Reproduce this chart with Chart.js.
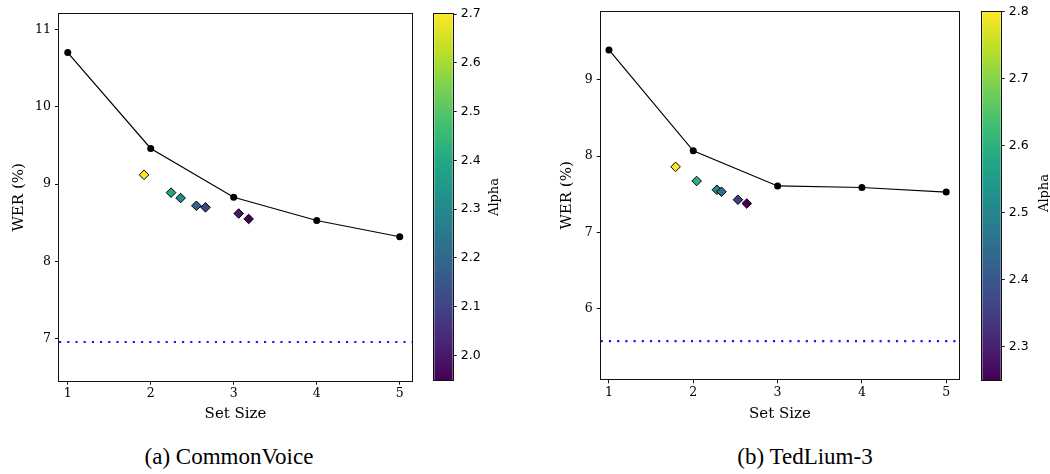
<!DOCTYPE html>
<html>
<head>
<meta charset="utf-8">
<script src="https://cdn.jsdelivr.net/npm/chart.js@4.4.1/dist/chart.umd.min.js"></script>
<style>
  html, body { margin: 0; padding: 0; background: #fff; }
  #wrap { position: relative; width: 1050px; height: 474px; overflow: hidden; }
  canvas { position: absolute; top: 0; }
  .caption { position: absolute; width: 300px; text-align: center; font-family: 'Liberation Serif', serif; font-size: 23px; line-height: 26px; color: #000; }
  .cblabel { position: absolute; width: 100px; height: 16px; line-height: 16px; text-align: center; font-family: 'DejaVu Serif', serif; font-size: 13px; color: #000; transform: rotate(-90deg); }
</style>
</head>
<body>
<div id="wrap">
  <canvas id="cvChart" width="425" height="424" style="left:0px"></canvas>
  <canvas id="cvBar" width="100" height="424" style="left:425px"></canvas>
  <canvas id="tedChart" width="425" height="424" style="left:540px"></canvas>
  <canvas id="tedBar" width="85" height="424" style="left:965px"></canvas>
  <div class="cblabel" style="left:444px; top:189px">Alpha</div>
  <div class="cblabel" style="left:994px; top:185px">Alpha</div>
  <div class="caption" style="left:79px; top:444px">(a) CommonVoice</div>
  <div class="caption" style="left:655px; top:444px">(b) TedLium-3</div>
</div>
<script>
// ---- data ----
var SET_SIZES = [1, 2, 3, 4, 5];
var X_TICKS = [1, 2, 3, 4, 5];

// CommonVoice
var CV_WER = [10.70, 9.46, 8.83, 8.53, 8.32];
var CV_DIAMOND_X = [1.92, 2.245, 2.36, 2.55, 2.66, 3.06, 3.18];
var CV_DIAMOND_Y = [9.12, 8.89, 8.82, 8.72, 8.70, 8.62, 8.55];
var CV_ALPHA = [2.7, 2.4, 2.3, 2.2, 2.1, 2.0, 1.95];
var CV_BASELINE = 6.96;
var CV_Y_TICKS = [7, 8, 9, 10, 11];
var CV_ALPHA_TICKS = [2.0, 2.1, 2.2, 2.3, 2.4, 2.5, 2.6, 2.7];

// TedLium-3
var TED_WER = [9.39, 8.07, 7.61, 7.59, 7.53];
var TED_DIAMOND_X = [1.79, 2.04, 2.28, 2.335, 2.53, 2.635];
var TED_DIAMOND_Y = [7.86, 7.675, 7.56, 7.535, 7.43, 7.38];
var TED_ALPHA = [2.8, 2.6, 2.5, 2.45, 2.35, 2.25];
var TED_BASELINE = 5.58;
var TED_Y_TICKS = [6, 7, 8, 9];
var TED_ALPHA_TICKS = [2.3, 2.4, 2.5, 2.6, 2.7, 2.8];

// viridis stops (0 .. 1)
var VIRIDIS = ['#440154', '#482475', '#414487', '#355f8d', '#2a788e', '#21918c',
               '#22a884', '#44bf70', '#7ad151', '#bddf26', '#fde725'];

function hexToRgb(h) {
    return [parseInt(h.substr(1, 2), 16), parseInt(h.substr(3, 2), 16), parseInt(h.substr(5, 2), 16)];
}

function viridis(t) {
    t = Math.max(0, Math.min(1, t));
    var pos = t * (VIRIDIS.length - 1);
    var i = Math.min(Math.floor(pos), VIRIDIS.length - 2);
    var f = pos - i;
    var a = hexToRgb(VIRIDIS[i]), b = hexToRgb(VIRIDIS[i + 1]);
    var c = a.map(function(v, k) { return Math.round(v + (b[k] - v) * f); });
    return 'rgb(' + c[0] + ',' + c[1] + ',' + c[2] + ')';
}

function zip(xs, ys) {
    return xs.map(function(x, i) { return { x: x, y: ys[i] }; });
}

var SERIF = 'DejaVu Serif';

// axes box (all four sides)
var framePlugin = {
    id: 'frame',
    afterDraw: function(chart) {
        var a = chart.chartArea, ctx = chart.ctx;
        var l = Math.round(a.left), t = Math.round(a.top), r = Math.round(a.right), b = Math.round(a.bottom);
        ctx.save();
        ctx.strokeStyle = '#111';
        ctx.lineWidth = 1;
        ctx.strokeRect(l - 0.5, t - 0.5, r - l + 1, b - t + 1);
        ctx.restore();
    }
};

var gradientPlugin = {
    id: 'cbGradient',
    beforeDatasetsDraw: function(chart) {
        var a = chart.chartArea, ctx = chart.ctx;
        var g = ctx.createLinearGradient(0, a.bottom, 0, a.top);
        VIRIDIS.forEach(function(c, i) { g.addColorStop(i / (VIRIDIS.length - 1), c); });
        ctx.save();
        ctx.fillStyle = g;
        ctx.fillRect(a.left, a.top, a.right - a.left, a.bottom - a.top);
        ctx.restore();
    }
};

function makePlot(id, cfg) {
    var amin = Math.min.apply(null, cfg.alpha), amax = Math.max.apply(null, cfg.alpha);
    var diamondColors = cfg.alpha.map(function(v) { return viridis((v - amin) / (amax - amin)); });
    var tickFont = { family: SERIF, size: 12.5 };
    var titleFont = { family: SERIF, size: 15, lineHeight: 1.2 };

    return new Chart(document.getElementById(id), {
        type: 'scatter',
        data: {
            datasets: [
                {
                    data: [{ x: cfg.xRange[0], y: cfg.baseline }, { x: cfg.xRange[1], y: cfg.baseline }],
                    showLine: true, borderColor: '#1a1aff', borderWidth: 2.2, borderDash: [2.2, 6],
                    pointRadius: 0
                },
                {
                    data: zip(SET_SIZES, cfg.wer),
                    showLine: true, borderColor: '#000', borderWidth: 1.2,
                    pointRadius: 3.5, pointBackgroundColor: '#000', pointBorderColor: '#000', pointBorderWidth: 0
                },
                {
                    data: zip(cfg.dx, cfg.dy),
                    pointStyle: 'rectRot', pointRadius: 4.8,
                    pointBackgroundColor: diamondColors, pointBorderColor: '#000', pointBorderWidth: 1
                }
            ]
        },
        options: {
            responsive: false, animation: false, devicePixelRatio: 1,
            layout: { padding: cfg.padding },
            plugins: { legend: { display: false }, tooltip: { enabled: false } },
            scales: {
                x: {
                    type: 'linear', min: cfg.xRange[0], max: cfg.xRange[1],
                    afterBuildTicks: function(s) { s.ticks = X_TICKS.map(function(v) { return { value: v }; }); },
                    afterFit: function(s) { s.height = cfg.xHeight; },
                    grid: { display: true, drawOnChartArea: false, tickLength: 4, color: '#111', tickWidth: 1 },
                    border: { display: false },
                    ticks: { font: tickFont, color: '#000', padding: 2, maxRotation: 0,
                             callback: function(v) { return String(v); } },
                    title: { display: true, text: 'Set Size', font: titleFont, color: '#000', padding: { top: 0, bottom: 1 } }
                },
                y: {
                    type: 'linear', min: cfg.yRange[0], max: cfg.yRange[1],
                    afterBuildTicks: function(s) { s.ticks = cfg.yTicks.map(function(v) { return { value: v }; }); },
                    afterFit: function(s) { s.width = cfg.yWidth; },
                    grid: { display: true, drawOnChartArea: false, tickLength: 4, color: '#111', tickWidth: 1 },
                    border: { display: false },
                    ticks: { font: tickFont, color: '#000', padding: 4,
                             callback: function(v) { return String(v); } },
                    title: { display: true, text: 'WER (%)', font: titleFont, color: '#000', padding: { top: cfg.yTitlePad, bottom: 0 } }
                }
            }
        },
        plugins: [framePlugin]
    });
}

function makeColorbar(id, cfg) {
    return new Chart(document.getElementById(id), {
        type: 'scatter',
        data: { datasets: [] },
        options: {
            responsive: false, animation: false, devicePixelRatio: 1,
            layout: { padding: cfg.padding },
            plugins: { legend: { display: false }, tooltip: { enabled: false } },
            scales: {
                x: { display: false, min: 0, max: 1 },
                y: {
                    type: 'linear', position: 'right', min: cfg.range[0], max: cfg.range[1],
                    afterBuildTicks: function(s) { s.ticks = cfg.ticks.map(function(v) { return { value: v }; }); },
                    afterFit: function(s) { s.width = cfg.yWidth; },
                    grid: { display: true, drawOnChartArea: false, tickLength: 4, color: '#111', tickWidth: 1 },
                    border: { display: false },
                    ticks: { font: { family: 'DejaVu Sans', size: 12.5 }, color: '#000', padding: 4,
                             callback: function(v) { return v.toFixed(1); } }
                }
            }
        },
        plugins: [gradientPlugin, framePlugin]
    });
}

makePlot('cvChart', {
    wer: CV_WER, dx: CV_DIAMOND_X, dy: CV_DIAMOND_Y, alpha: CV_ALPHA, baseline: CV_BASELINE,
    xRange: [0.895, 5.148], yRange: [6.46, 11.198], yTicks: CV_Y_TICKS,
    padding: { left: 0, top: 14, right: 13, bottom: 0 }, yWidth: 59, xHeight: 43.3, yTitlePad: 10
});
makeColorbar('cvBar', {
    range: [Math.min.apply(null, CV_ALPHA), Math.max.apply(null, CV_ALPHA)], ticks: CV_ALPHA_TICKS,
    padding: { left: 9.3, top: 14, right: 0, bottom: 44 }, yWidth: 72.3
});

makePlot('tedChart', {
    wer: TED_WER, dx: TED_DIAMOND_X, dy: TED_DIAMOND_Y, alpha: TED_ALPHA, baseline: TED_BASELINE,
    xRange: [0.902, 5.154], yRange: [5.08, 9.893], yTicks: TED_Y_TICKS,
    padding: { left: 0, top: 7.3, right: 5.3, bottom: 0 }, yWidth: 60.7, xHeight: 44.7, yTitlePad: 18.5
});
makeColorbar('tedBar', {
    range: [Math.min.apply(null, TED_ALPHA), Math.max.apply(null, TED_ALPHA)], ticks: TED_ALPHA_TICKS,
    padding: { left: 17.3, top: 7.3, right: 0, bottom: 44 }, yWidth: 49.3
});
</script>
</body>
</html>
